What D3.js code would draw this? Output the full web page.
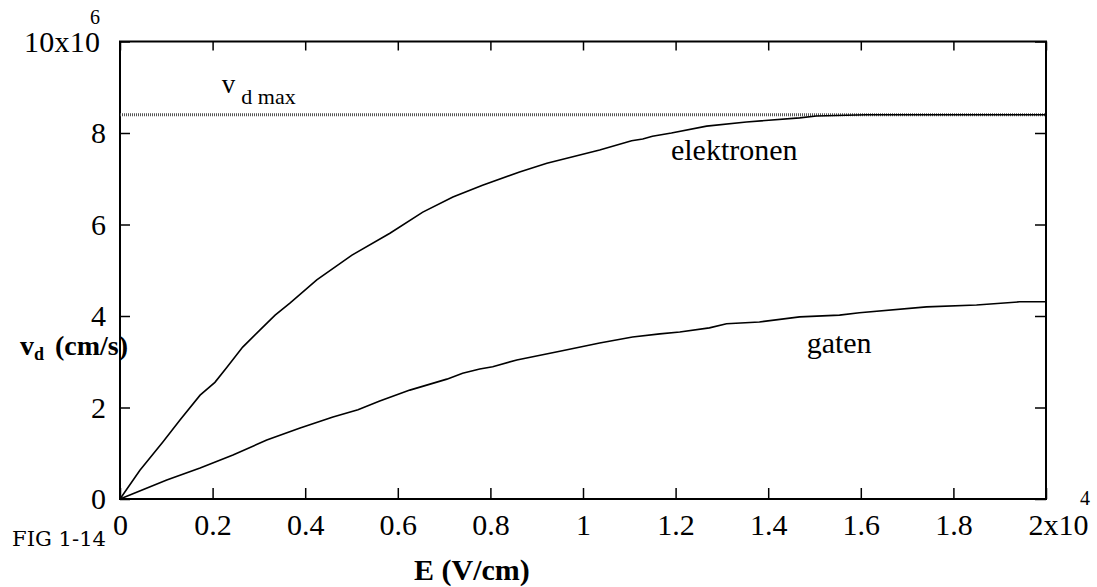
<!DOCTYPE html>
<html>
<head>
<meta charset="utf-8">
<script src="https://cdn.jsdelivr.net/npm/d3@7"></script>
<style>
  body { margin: 0; background: #fff; }
</style>
</head>
<body>
<svg id="chart" width="1097" height="587"></svg>
<script>
// data (E in 10^4 V/cm, v in 10^6 cm/s)
const elecE = [0, 0.043, 0.093, 0.13, 0.173, 0.205, 0.231, 0.265, 0.302, 0.335, 0.367, 0.425, 0.501, 0.583, 0.654, 0.719, 0.783, 0.863, 0.922, 0.978, 1.036, 1.105, 1.129, 1.150, 1.191, 1.267, 1.353, 1.468, 1.504, 1.612, 2.0];
const elecV = [0, 0.63, 1.25, 1.73, 2.27, 2.55, 2.88, 3.32, 3.69, 4.02, 4.28, 4.79, 5.33, 5.81, 6.27, 6.60, 6.86, 7.15, 7.34, 7.48, 7.63, 7.83, 7.87, 7.93, 8.0, 8.15, 8.24, 8.33, 8.37, 8.40, 8.40];
const holeE = [0, 0.101, 0.173, 0.244, 0.317, 0.389, 0.460, 0.514, 0.561, 0.626, 0.706, 0.740, 0.777, 0.805, 0.857, 0.950, 1.036, 1.107, 1.166, 1.209, 1.273, 1.310, 1.381, 1.468, 1.554, 1.597, 1.742, 1.850, 1.943, 2.0];
const holeV = [0, 0.415, 0.68, 0.96, 1.29, 1.55, 1.79, 1.95, 2.14, 2.38, 2.62, 2.75, 2.84, 2.89, 3.04, 3.23, 3.41, 3.54, 3.61, 3.65, 3.74, 3.83, 3.87, 3.98, 4.02, 4.07, 4.20, 4.24, 4.31, 4.31];
const vdMax = 8.4;
const xTicks = [0, 0.2, 0.4, 0.6, 0.8, 1, 1.2, 1.4, 1.6, 1.8, 2];
const xTickLabels = ["0", "0.2", "0.4", "0.6", "0.8", "1", "1.2", "1.4", "1.6", "1.8", "2x10"];
const yTicks = [0, 2, 4, 6, 8, 10];
const yTickLabels = ["0", "2", "4", "6", "8", "10x10"];

const serif = "'Liberation Serif', 'Times New Roman', Times, serif";

const svg = d3.select("#chart").style("font-family", serif);
const margin = {left: 120, top: 41.5, right: 51, bottom: 88};
const W = 1097 - margin.left - margin.right;
const H = 587 - margin.top - margin.bottom;

const x = d3.scaleLinear().domain([0, 2]).range([0, W]);
const y = d3.scaleLinear().domain([0, 10]).range([H, 0]);

const g = svg.append("g").attr("transform", "translate(" + margin.left + "," + margin.top + ")");

// axes, ticks pointing inward
const bottom = g.append("g").attr("transform", "translate(0," + H + ")")
    .call(d3.axisBottom(x).tickValues(xTicks).tickSize(-11).tickPadding(15)
        .tickFormat((d, i) => xTickLabels[i]));
const left = g.append("g")
    .call(d3.axisLeft(y).tickValues(yTicks).tickSize(-10).tickPadding(14)
        .tickFormat((d, i) => yTickLabels[i]));
g.append("g").call(d3.axisTop(x).tickValues(xTicks).tickSize(-9).tickFormat(""));
g.append("g").attr("transform", "translate(" + W + ",0)")
    .call(d3.axisRight(y).tickValues(yTicks).tickSize(-11).tickFormat(""));

g.selectAll(".domain").remove();
g.selectAll(".tick line").attr("stroke", "#000").attr("stroke-width", 1.5);
g.selectAll(".tick text").style("font-family", serif).style("font-size", "30px");

// last labels with exponent
bottom.selectAll(".tick text").filter(d => d === 2).attr("text-anchor", "start").attr("x", -18);
left.selectAll(".tick text").filter(d => d === 10).attr("x", -20)
    .attr("textLength", 76).attr("lengthAdjust", "spacing");
g.append("text").attr("x", x(2) + 34).attr("y", H + 6)
    .style("font-family", serif).style("font-size", "20px").text("4");
g.append("text").attr("x", -30).attr("y", -18)
    .style("font-family", serif).style("font-size", "20px").text("6");

// frame
g.append("rect").attr("width", W).attr("height", H)
    .attr("fill", "none").attr("stroke", "#000").attr("stroke-width", 2);

// vd max dotted line
g.append("line")
    .attr("x1", 0).attr("x2", W)
    .attr("y1", y(vdMax)).attr("y2", y(vdMax))
    .attr("stroke", "#555").attr("stroke-width", 3).attr("stroke-dasharray", "1,1");

const line = d3.line().x(d => x(d[0])).y(d => y(d[1]));

g.append("path").datum(d3.zip(elecE, elecV))
    .attr("d", line).attr("fill", "none").attr("stroke", "#000").attr("stroke-width", 1.6);
g.append("path").datum(d3.zip(holeE, holeV))
    .attr("d", line).attr("fill", "none").attr("stroke", "#000").attr("stroke-width", 1.6);

// curve labels
g.append("text").attr("x", x(1.19)).attr("y", y(7.41))
    .style("font-family", serif).style("font-size", "30px").text("elektronen");
g.append("text").attr("x", x(1.483)).attr("y", y(3.19))
    .style("font-family", serif).style("font-size", "30px").text("gaten");

const vmax = g.append("text").attr("x", x(0.22)).attr("y", y(8.87))
    .style("font-family", serif).style("font-size", "27px");
vmax.append("tspan").text("v");
vmax.append("tspan").attr("dx", 6).attr("dy", 11).style("font-size", "22px").text("d max");

// axis titles
svg.append("text").attr("x", 414).attr("y", 580)
    .style("font-family", serif).style("font-size", "30px").style("font-weight", "bold").text("E (V/cm)");

const yl = svg.append("text").attr("x", 20).attr("y", 355)
    .style("font-family", serif).style("font-size", "28px").style("font-weight", "bold");
yl.append("tspan").text("v");
yl.append("tspan").attr("dy", 5).style("font-size", "18px").text("d");
yl.append("tspan").attr("dy", -5).attr("dx", 4).text(" (cm/s)");

svg.append("text").attr("x", 12).attr("y", 546)
    .attr("textLength", 94).attr("lengthAdjust", "spacingAndGlyphs")
    .style("font-family", "'DejaVu Serif', serif").style("font-size", "20px").text("FIG 1-14");
</script>
</body>
</html>
